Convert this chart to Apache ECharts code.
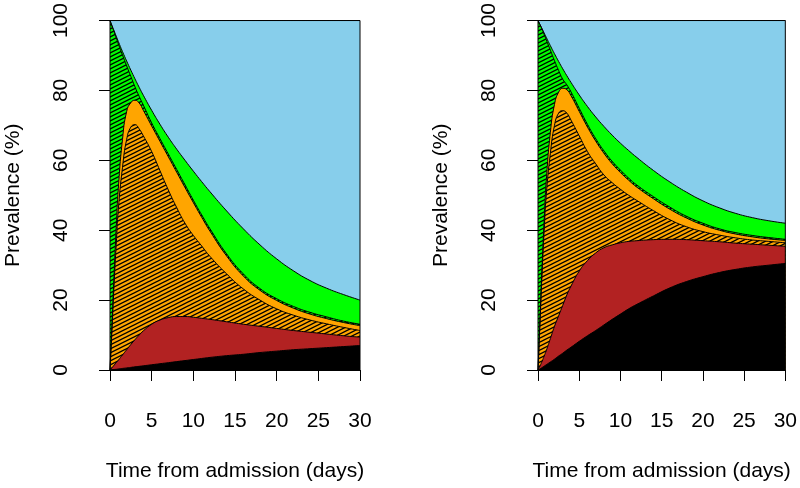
<!DOCTYPE html>
<html>
<head>
<meta charset="utf-8">
<script src="https://cdn.jsdelivr.net/npm/echarts@6/dist/echarts.min.js"></script>
<style>
html,body{margin:0;padding:0;background:#fff;}
#c{width:800px;height:488px;}
</style>
</head>
<body>
<div id="c"></div>
<script>
// Time from admission (days)
const time = [0,0.25,0.5,0.75,1,1.5,2,2.5,3,3.5,4,5,6,7,8,9,10,11,12,14,16,18,20,22,24,26,28,30];
const xTicks = [0,5,10,15,20,25,30];
const yTicks = [0,20,40,60,80,100];

// Cumulative prevalence (%) at the top of each band
// Left panel
const leftBlack  = [0,0.1,0.15,0.2,0.3,0.45,0.6,0.75,0.9,1.05,1.2,1.5,1.8,2.1,2.4,2.7,3,3.3,3.6,4.1,4.5,5,5.4,5.8,6.1,6.4,6.7,7];
const leftRed    = [0,0.7,1.4,2.1,2.8,4.3,5.8,7.3,8.7,10,11.2,13.1,14.3,15,15.3,15.3,15.1,14.8,14.5,13.8,13.1,12.5,11.9,11.3,10.8,10.3,9.8,9.4];
const leftHatch  = [0,12,25,36,46,58,66,69.5,70.2,69,67,62.5,57,51.5,46.5,42,38.5,35.5,32.5,27.5,23.2,20,17.5,15.7,14.3,13.2,12.2,11.3];
const leftOrange = [0,14,28,41,52,66,74,76.5,77.2,76.4,74.3,69.8,65.4,61,56.6,52.2,47.9,43.7,39.7,32.6,26.9,22.8,19.9,17.7,16,14.7,13.6,12.7];
const leftGHatch = [100,98.3,96.7,95,93.3,90.1,87,84,81,78.3,75.8,70.7,66.2,61.8,57.4,53,48.6,44.4,40.4,33.2,27.5,23.3,20.4,18.2,16.5,15.2,14,13.1];
const leftGreen  = [100,98.5,97,95.5,94,91.1,88.4,85.8,83.3,80.9,78.6,74.3,70.3,66.6,63.2,60,56.9,53.9,51,45.5,40.4,35.8,31.8,28.4,25.6,23.4,21.6,20];
const leftTotal  = [100,100,100,100,100,100,100,100,100,100,100,100,100,100,100,100,100,100,100,100,100,100,100,100,100,100,100,100];
// Right panel
const rightBlack  = [0,0.3,0.7,1.1,1.5,2.3,3.1,4,4.8,5.7,6.5,8.2,9.8,11.3,12.9,14.5,16,17.5,18.8,21.2,23.5,25.3,26.7,27.9,28.8,29.5,30,30.5];
const rightRed    = [0,1.2,2.5,4,5.5,9,12.5,15.5,18.5,21.5,24,28.3,31.3,33.5,35,35.8,36.4,36.8,37,37.3,37.4,37.3,37,36.7,36.3,36,35.7,35.4];
const rightHatch  = [0,14,28,40,50,62,70,73.5,74.2,73.5,71.5,67,62.5,59,55.8,53.6,51.7,50,48.5,45.6,43,41,39.6,38.6,37.8,37.2,36.8,36.4];
const rightOrange = [0,15,30,43,54,68,76,79.5,80.6,80.2,78.5,74,69.5,65.5,62,59,56.5,54.3,52.3,49,46,43.5,41.5,40,38.9,38.1,37.5,37.1];
const rightGHatch = [100,98.8,97.5,96,94.5,91.5,88.5,85.7,83.2,81.6,79.6,74.9,70.3,66.2,62.7,59.7,57.2,54.9,52.9,49.6,46.6,44,42,40.4,39.3,38.5,37.9,37.4];
const rightGreen  = [100,98.8,97.6,96.4,95.2,92.8,90.5,88.3,86.2,84.2,82.3,78.7,75.4,72.4,69.7,67.2,64.9,62.8,60.8,57.1,53.8,50.9,48.4,46.4,44.8,43.6,42.7,42];
const rightTotal  = [100,100,100,100,100,100,100,100,100,100,100,100,100,100,100,100,100,100,100,100,100,100,100,100,100,100,100,100];

const FONT = 'Liberation Sans, Arial, sans-serif';

function hatch(bg){
  const c = document.createElement('canvas');
  c.width = 8; c.height = 4;
  const g = c.getContext('2d');
  g.fillStyle = bg; g.fillRect(0,0,8,4);
  g.strokeStyle = '#000'; g.lineWidth = 1.3;
  for (let k=-2;k<=3;k++){
    g.beginPath();
    g.moveTo(-8, 8 + 4*k);
    g.lineTo(16, -4 + 4*k);
    g.stroke();
  }
  return {image: c, repeat: 'repeat'};
}
const orangeHatch = hatch('#FFA500');
const greenHatch = hatch('#00FF00');

function pairs(vals){ return time.map((t,i)=>[t, vals[i]]); }

function bands(idx, arr){
  const defs = [
    [arr[6], '#87CEEB'],
    [arr[5], '#00FF00'],
    [arr[4], greenHatch],
    [arr[3], '#FFA500'],
    [arr[2], orangeHatch],
    [arr[1], '#B22222'],
    [arr[0], '#000000']
  ];
  return defs.map(([v,col])=>({
    type:'line', xAxisIndex: idx, yAxisIndex: idx,
    data: pairs(v), symbol:'none', showSymbol:false,
    smooth: 0.5, silent:true, clip:true,
    lineStyle:{color:'#000', width:1},
    areaStyle:{color: col, opacity:1}
  }));
}

function xAx(idx){
  return {
    gridIndex: idx, type:'value', min:0, max:30, interval:5, offset:15,
    axisLine:{show:true, lineStyle:{color:'#000', width:1}},
    axisTick:{show:true, length:11, lineStyle:{color:'#000'}},
    axisLabel:{fontSize:21, color:'#000', fontFamily:FONT, margin:26,
      formatter: v => xTicks.includes(v) ? String(v) : ''},
    splitLine:{show:false},
    name:'Time from admission (days)', nameLocation:'middle', nameGap:76,
    nameTextStyle:{fontSize:21, color:'#000', fontFamily:FONT}
  };
}
function yAx(idx){
  return {
    gridIndex: idx, type:'value', min:0, max:100, interval:20, offset:11,
    axisLine:{show:true, lineStyle:{color:'#000', width:1}},
    axisTick:{show:true, length:11, lineStyle:{color:'#000'}},
    axisLabel:{fontSize:21, color:'#000', fontFamily:FONT, margin:27, rotate:90,
      formatter: v => yTicks.includes(v) ? String(v) : ''},
    splitLine:{show:false},
    name:'Prevalence (%)', nameLocation:'middle', nameGap:75, nameRotate:90,
    nameTextStyle:{fontSize:21, color:'#000', fontFamily:FONT}
  };
}

const chart = echarts.init(document.getElementById('c'), null, {renderer:'canvas'});
chart.setOption({
  animation:false,
  backgroundColor:'#fff',
  grid:[
    {left:110, top:17, width:250, height:353, show:true, z:10, backgroundColor:'transparent', borderColor:'#000', borderWidth:1},
    {left:538, top:17, width:250, height:353, show:true, z:10, backgroundColor:'transparent', borderColor:'#000', borderWidth:1}
  ],
  xAxis:[xAx(0), xAx(1)],
  yAxis:[yAx(0), yAx(1)],
  series:[
    ...bands(0, [leftBlack,leftRed,leftHatch,leftOrange,leftGHatch,leftGreen,leftTotal]),
    ...bands(1, [rightBlack,rightRed,rightHatch,rightOrange,rightGHatch,rightGreen,rightTotal])
  ]
});
</script>
</body>
</html>
